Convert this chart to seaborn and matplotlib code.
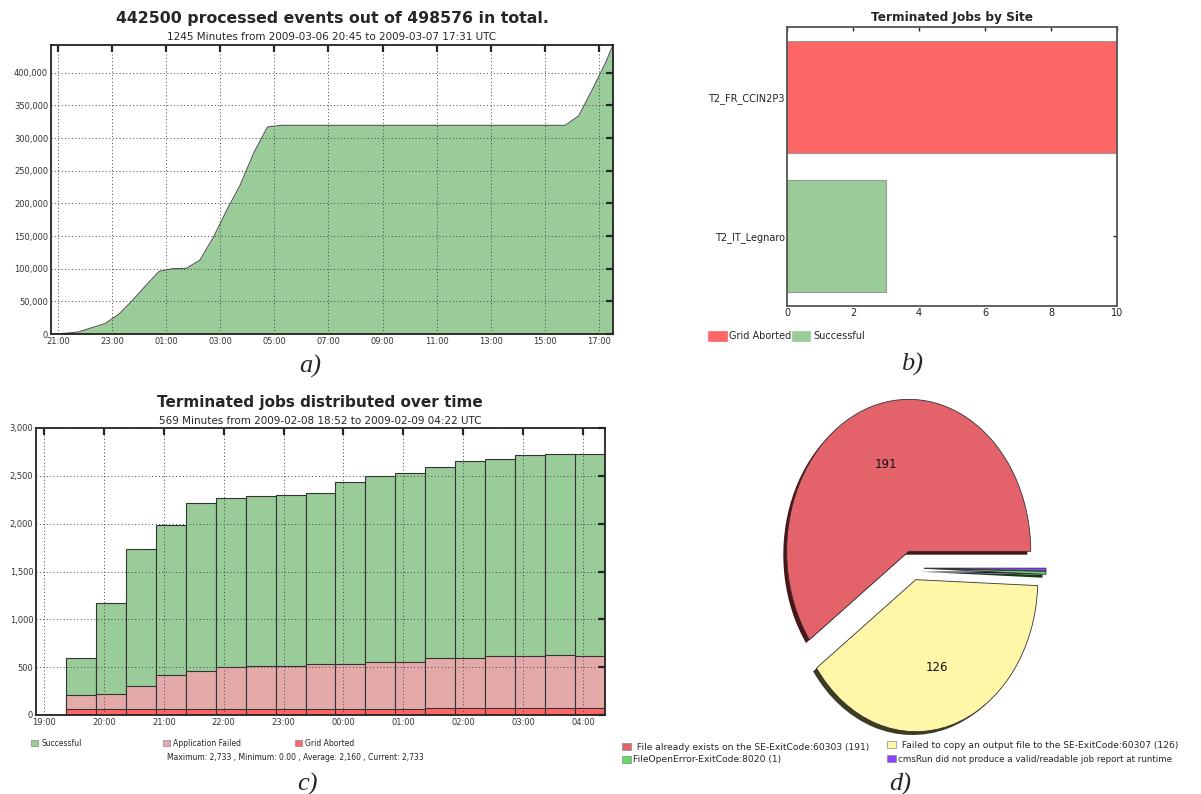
import numpy as np
import pandas as pd
import matplotlib
matplotlib.use("Agg")
import matplotlib.pyplot as plt
from matplotlib.patches import Patch
from matplotlib.ticker import FuncFormatter
import seaborn as sns

# ---------------- data ----------------
# (a) cumulative processed events, 2009-03-06 20:45 -> 2009-03-07 17:31 UTC
events_times = ["20:45", "21:15", "21:45", "22:15", "22:45", "23:15", "23:45",
                "00:15", "00:45", "01:15", "01:45", "02:15", "02:45", "03:15",
                "03:45", "04:15", "04:45", "05:15", "05:45", "06:15", "06:45",
                "07:15", "07:45", "08:15", "08:45", "09:15", "09:45", "10:15",
                "10:45", "11:15", "11:45", "12:15", "12:45", "13:15", "13:45",
                "14:15", "14:45", "15:15", "15:45", "16:15", "16:45", "17:15",
                "17:31"]
events_values = [0, 1000, 3000, 9500, 16000, 30000, 51000,
                 74000, 96000, 100000, 100500, 113000, 148000, 190000,
                 229000, 278000, 317000, 319500, 319500, 319500, 319500,
                 319500, 319500, 319500, 319500, 319500, 319500, 319500,
                 319500, 319500, 319500, 319500, 319500, 319500, 319500,
                 319500, 319500, 319500, 319500, 334000, 374000, 416000,
                 442500]
title_a = "442500 processed events out of 498576 in total."
subtitle_a = "1245 Minutes from 2009-03-06 20:45 to 2009-03-07 17:31 UTC"

# (b) terminated jobs by site
sites = ["T2_FR_CCIN2P3", "T2_IT_Legnaro"]
site_jobs = [10, 3]
site_status = ["Grid Aborted", "Successful"]
title_b = "Terminated Jobs by Site"

# (c) terminated jobs over time (30-minute bins, bin start times)
bin_starts = ["19:22", "19:52", "20:22", "20:52", "21:22", "21:52", "22:22",
              "22:52", "23:22", "23:52", "00:22", "00:52", "01:22", "01:52",
              "02:22", "02:52", "03:22", "03:52"]
grid_aborted = [65, 65, 65, 65, 65, 65, 65, 65, 65, 65, 65, 65,
                75, 75, 75, 75, 75, 75]
app_failed = [148, 159, 243, 358, 400, 432, 452, 449, 463, 463, 484, 494,
              516, 526, 537, 537, 547, 544]
successful = [388, 944, 1423, 1560, 1752, 1772, 1776, 1786, 1793, 1910, 1948,
              1972, 2006, 2051, 2060, 2102, 2106, 2114]
range_c = ["18:52", "04:22"]
title_c = "Terminated jobs distributed over time"
subtitle_c = "569 Minutes from 2009-02-08 18:52 to 2009-02-09 04:22 UTC"
stats_c = "Maximum: 2,733 , Minimum: 0.00 , Average: 2,160 , Current: 2,733"

# (d) failure reasons
reasons = ["File already exists on the SE-ExitCode:60303 (191)",
           "Failed to copy an output file to the SE-ExitCode:60307 (126)",
           "FileOpenError-ExitCode:8020 (1)",
           "cmsRun did not produce a valid/readable job report at runtime"]
reason_counts = [191, 126, 1, 1]

# ---------------- style ----------------
sns.set_style("white")
plt.rcParams["font.family"] = ["DejaVu Sans"]

GREEN = "#99cc99"
PINK = "#e4aaaa"
RED = "#ff6666"
PIE_COLORS = ["#e4626a", "#fff6a8", "#66dd66", "#8844ff"]
PIE_SHADOW = ["#4a1518", "#3c3c22", "#1a3a1a", "#221144"]
SERIF = ["Liberation Serif", "DejaVu Serif"]

W, H = 1201, 794
fig = plt.figure(figsize=(W / 100, H / 100), dpi=100)
fig.patch.set_facecolor("white")


def box(l, t, r, b):
    return [l / W, 1 - b / H, (r - l) / W, (b - t) / H]


def fx(x):
    return x / W


def fy(y):
    return 1 - y / H


def to_hours(times):
    """Clock strings -> hours on a continuous axis (rolls over midnight)."""
    out, day, prev = [], 0.0, None
    for t in times:
        h, m = map(int, t.split(":"))
        v = h + m / 60.0
        if prev is not None and v + day < prev:
            day += 24.0
        out.append(v + day)
        prev = v + day
    return np.array(out)


hour_fmt = FuncFormatter(lambda v, p: f"{int(round(v)) % 24:02d}:00")
thousands = FuncFormatter(lambda v, p: f"{int(v):,}")


def style_time_axes(ax):
    ax.tick_params(direction="in", length=5, width=1.6, top=True, right=True,
                   labelsize=6, pad=2, labelcolor="#333")
    for s in ax.spines.values():
        s.set_linewidth(1.3)
        s.set_color("#222")
        s.set_visible(True)
    ax.grid(True, linestyle=(0, (1, 2.5)), color="#444", linewidth=0.7)
    ax.set_axisbelow(False)
    ax.set_xlabel("")
    ax.set_ylabel("")


def legend_item(color, label, x, y, fs, hl, hh, pad, edge="#888"):
    h = Patch(facecolor=color, edgecolor=edge, linewidth=0.5)
    return fig.legend([h], [label], loc="center left",
                      bbox_to_anchor=(fx(x), fy(y)), frameon=False,
                      borderpad=0, borderaxespad=0, handlelength=hl,
                      handleheight=hh, handletextpad=pad, prop={"size": fs})


# ---------------- (a) ----------------
axa = fig.add_axes(box(51, 45, 613, 334))
df_a = pd.DataFrame({"t": to_hours(events_times), "events": events_values})
axa.fill_between(df_a["t"], df_a["events"], color=GREEN, linewidth=0, zorder=1)
sns.lineplot(data=df_a, x="t", y="events", color="#555555", linewidth=0.8,
             ax=axa)
axa.set_xlim(df_a["t"].iloc[0], df_a["t"].iloc[-1])
axa.set_ylim(0, max(events_values))
axa.set_xticks(np.arange(21, 42, 2))
axa.xaxis.set_major_formatter(hour_fmt)
axa.set_yticks(np.arange(0, 400001, 50000))
axa.yaxis.set_major_formatter(thousands)
style_time_axes(axa)
fig.text(fx(332), fy(19), title_a, ha="center", va="center",
         fontsize=11.3, fontweight="bold")
fig.text(fx(332), fy(37.5), subtitle_a, ha="center", va="center", fontsize=7.5)
fig.text(fx(310), fy(366), "a)", ha="center", va="center", fontsize=19,
         style="italic", family=SERIF)

# ---------------- (b) ----------------
axb = fig.add_axes(box(787, 27, 1117, 306))
df_b = pd.DataFrame({"site": sites, "jobs": site_jobs, "status": site_status})
sns.barplot(data=df_b, x="jobs", y="site", hue="status",
            palette={"Grid Aborted": RED, "Successful": GREEN}, saturation=1,
            orient="h", width=0.8, dodge=False, edgecolor="#999999",
            linewidth=0.8, legend=False, ax=axb)
axb.set_xlim(0, 10)
axb.set_ylim(1.5, -0.5)
axb.set_xticks(np.arange(0, 11, 2))
axb.tick_params(direction="in", length=3, width=1.0, top=True, right=True,
                labelsize=7, pad=1.5, labelcolor="#222")
for s in axb.spines.values():
    s.set_linewidth(1.3)
    s.set_color("#555")
    s.set_visible(True)
axb.set_xlabel("")
axb.set_ylabel("")
fig.text(fx(952), fy(17), title_b, ha="center", va="center",
         fontsize=8.7, fontweight="bold")
legend_item(RED, "Grid Aborted", 708, 336, 7, 1.95, 1.23, 0.2, edge=RED)
legend_item(GREEN, "Successful", 792, 336, 7, 1.85, 1.23, 0.3, edge=GREEN)
fig.text(fx(912), fy(364), "b)", ha="center", va="center", fontsize=19,
         style="italic", family=SERIF)

# ---------------- (c) ----------------
axc = fig.add_axes(box(36, 428, 605, 715))
starts = to_hours(bin_starts)
centers = starts + np.diff(starts).min() / 2
ga = np.array(grid_aborted)
af = np.array(app_failed)
sc = np.array(successful)
df_c = pd.DataFrame({"t": centers,
                     "total": ga + af + sc,
                     "failed_top": ga + af,
                     "aborted": ga})
for col, color in [("total", GREEN), ("failed_top", PINK), ("aborted", RED)]:
    sns.barplot(data=df_c, x="t", y=col, native_scale=True, width=1.0,
                color=color, saturation=1, edgecolor="#333333", linewidth=0.8,
                errorbar=None, ax=axc)
lim_c = to_hours(range_c)
axc.set_xlim(lim_c[0], lim_c[1])
axc.set_ylim(0, 3000)
axc.set_xticks(np.arange(19, 29, 1))
axc.xaxis.set_major_formatter(hour_fmt)
axc.set_yticks(np.arange(0, 3001, 500))
axc.yaxis.set_major_formatter(thousands)
style_time_axes(axc)
fig.text(fx(320), fy(403), title_c, ha="center", va="center",
         fontsize=11, fontweight="bold")
fig.text(fx(320), fy(421.5), subtitle_c, ha="center", va="center", fontsize=7.5)
legend_item(GREEN, "Successful", 31, 743, 5.5, 0.92, 0.92, 0.4)
legend_item(PINK, "Application Failed", 163, 743, 5.5, 0.92, 0.92, 0.4)
legend_item(RED, "Grid Aborted", 295, 743, 5.5, 0.92, 0.92, 0.4)
fig.text(fx(167), fy(758), stats_c, ha="left", va="center", fontsize=5.5,
         color="#222")
fig.text(fx(307), fy(784), "c)", ha="center", va="center", fontsize=19,
         style="italic", family=SERIF)

# ---------------- (d) ----------------
axd = fig.add_axes(box(770, 385, 1080, 745))
total_d = sum(reason_counts)
explode = [0.115, 0.08, 0.09, 0.09]
axd.pie(reason_counts, colors=PIE_SHADOW, explode=explode, startangle=0,
        counterclock=True, center=(-0.028, -0.022),
        wedgeprops=dict(linewidth=0))
axd.pie(reason_counts, colors=PIE_COLORS, explode=explode, startangle=0,
        counterclock=True, center=(0, 0),
        wedgeprops=dict(edgecolor="#333333", linewidth=0.6),
        autopct=lambda p: f"{p * total_d / 100:.0f}" if p > 5 else "",
        pctdistance=0.6, textprops=dict(fontsize=8.5, color="#111"))
axd.set_aspect("auto")
axd.set_xlim((770 - 913) / 122, (1080 - 913) / 122)
axd.set_ylim(-(745 - 568) / 152, (568 - 385) / 152)
axd.axis("off")
legend_item(PIE_COLORS[0], " " + reasons[0], 622, 747, 6.6, 0.98, 0.87, 0.3)
legend_item(PIE_COLORS[2], reasons[2], 622, 760, 6.6, 0.98, 0.87, 0.2)
legend_item(PIE_COLORS[1], " " + reasons[1], 887, 745, 6.6, 0.98, 0.87, 0.3)
legend_item(PIE_COLORS[3], reasons[3], 887, 759, 6.3, 1.0, 1.0, 0.2)
fig.text(fx(900), fy(784), "d)", ha="center", va="center", fontsize=19,
         style="italic", family=SERIF)

fig.savefig("out.png", dpi=100, facecolor="white")
